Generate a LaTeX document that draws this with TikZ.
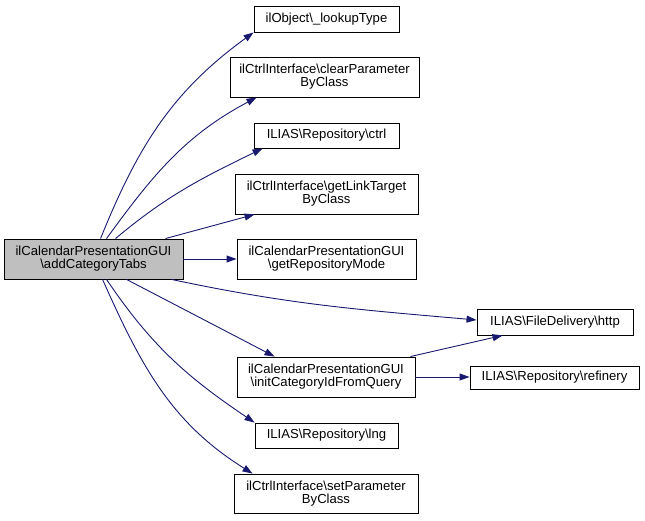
\documentclass[tikz,border=0pt]{standalone}
\usepackage{fontspec}
\setmainfont{Liberation Sans}
\usetikzlibrary{arrows.meta}
\definecolor{edgeblue}{HTML}{191970}
\newcommand{\bs}{\textbackslash}
\begin{document}
\begin{tikzpicture}[x=1pt,y=1pt,
    fn/.style={draw=black,line width=0.9pt,fill=white,align=center,inner sep=0pt,
      font=\fontsize{13.1}{12.9}\selectfont},
    call/.style={draw=edgeblue,line width=0.9pt,-{Triangle[length=10pt,width=7pt]}}]
      \useasboundingbox (0,0) rectangle (645,521);
      \node[fn,fill=black!25,minimum width=179,minimum height=40] (root) at (93.5,262) {ilCalendarPresentationGUI\\\bs addCategoryTabs};
      \node[fn,minimum width=145,minimum height=26] (lookup) at (326.5,502) {ilObject\bs\_lookupType};
      \node[fn,minimum width=189,minimum height=40] (clear) at (324.5,444) {ilCtrlInterface\bs clearParameter\\ByClass};
      \node[fn,minimum width=145,minimum height=25] (ctrl) at (326.5,385.5) {ILIAS\bs Repository\bs ctrl};
      \node[fn,minimum width=183,minimum height=40] (link) at (326.5,327) {ilCtrlInterface\bs getLinkTarget\\ByClass};
      \node[fn,minimum width=179,minimum height=40] (mode) at (326.5,262) {ilCalendarPresentationGUI\\\bs getRepositoryMode};
      \node[fn,minimum width=156,minimum height=26] (http) at (555,199) {ILIAS\bs FileDelivery\bs http};
      \node[fn,minimum width=178,minimum height=40] (init) at (326,144) {ilCalendarPresentationGUI\\\bs initCategoryIdFromQuery};
      \node[fn,minimum width=169,minimum height=23] (refinery) at (554.5,143.5) {ILIAS\bs Repository\bs refinery};
      \node[fn,minimum width=143,minimum height=25] (lng) at (326.5,85.5) {ILIAS\bs Repository\bs lng};
      \node[fn,minimum width=184,minimum height=39] (set) at (326,27.5) {ilCtrlInterface\bs setParameter\\ByClass};
      \draw[call] ([xshift=97pt]root.north west) to[out=68,in=216] (lookup.south west);
      \draw[call] ([xshift=103pt]root.north west) to[out=54,in=208] ([xshift=27pt]clear.south west);
      \draw[call] ([xshift=112pt]root.north west) to[out=40,in=206] ([xshift=9pt]ctrl.south west);
      \draw[call] ([xshift=162pt]root.north west) -- ([xshift=20pt]link.south west);
      \draw[call] (root.east) -- (mode.west);
      \draw[call] ([xshift=168pt]root.south west) to[out=-12,in=175] ([yshift=2pt]http.west);
      \draw[call] ([xshift=123pt]root.south west) -- ([xshift=38pt]init.north west);
      \draw[call] ([xshift=103pt]root.south west) to[out=-56,in=146] (lng.north west);
      \draw[call] ([xshift=99pt]root.south west) to[out=-66,in=148] ([xshift=19pt]set.north west);
      \draw[call] ([xshift=-5pt]init.north east) -- ([xshift=26pt]http.south west);
      \draw[call] (init.east) -- (init.east -| refinery.west);
    \end{tikzpicture}
\end{document}
